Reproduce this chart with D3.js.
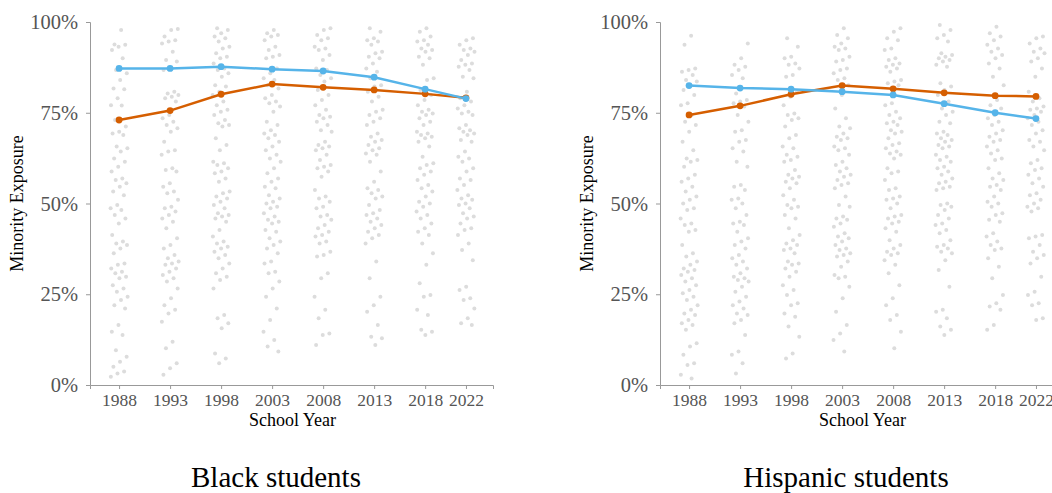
<!DOCTYPE html>
<html>
<head>
<meta charset="utf-8">
<script src="https://cdn.jsdelivr.net/npm/d3@7"></script>
<style>
  body { margin: 0; background: #fff; }
  text { font-family: "Liberation Serif", "DejaVu Serif", serif; }
</style>
</head>
<body>
<svg width="1052" height="493"></svg>
<script>
// school years shown on the x axis
const years = [1988, 1993, 1998, 2003, 2008, 2013, 2018, 2022];
const yTicks = [0, 25, 50, 75, 100];
const panelTitles = ['Black students', 'Hispanic students'];

// the two summary lines (percent)
const blackBlue = [87.2, 87.2, 87.7, 87.0, 86.5, 84.8, 81.5, 78.9];
const blackOrange = [73.0, 75.6, 80.1, 82.9, 82.0, 81.3, 80.2, 79.1];
const hispanicBlue = [82.5, 81.8, 81.5, 80.8, 79.9, 77.5, 75.0, 73.4];
const hispanicOrange = [74.4, 76.9, 80.1, 82.5, 81.6, 80.5, 79.7, 79.5];

// grey dots, one list per school year (percent)
const blackDots = [
  [97.8,93.8,93.7,93.2,92.3,90,86.8,85.9,84,81.7,81.5,79,77.1,77,73,71.2,69.8,69.3,68.9,65.7,65.2,64.3,62.4,61.5,60.1,58.8,56.9,56.5,55.6,54.6,53.3,52.3,49.6,48.7,48.2,46.8,45.9,44.5,41.3,39.5,39,38.6,37.6,36.3,33.5,33.1,32.1,31.2,30.8,29.8,29.4,27.5,26.6,25.7,24.3,23.4,22,21.1,16.5,14.7,13.8,9.6,7.8,6.4,5,3.7,3.2,2.3],
  [98.1,97.8,96,95,94.6,94.1,91.8,89.5,89.1,87.2,86.8,80.8,80.3,79.9,79.4,79,78.1,74.4,73.5,72.5,71.6,70.7,69.8,67,64.7,64.3,63.4,59.7,59.2,58.8,55.6,54.6,53.3,52.8,51,49.1,48.7,47.8,46.8,45.9,45,43.2,40.4,38.6,37.6,35.8,34.9,34,33.5,33.1,32.1,31.2,30.3,29.4,28.5,26.6,23.9,22,20.7,19.7,17.4,11.9,10.1,6,4.6,2.8],
  [98.3,97.8,96.9,96,95.5,94.6,93.2,92.7,91.4,90.4,90,88.6,87.2,86.8,85.9,84.9,82.6,82.2,80.8,79.9,78.1,77.1,75.8,75.3,74.4,73,72.1,71.6,71.2,68,66.1,64.7,61.5,61.1,60.6,59.7,58.8,58.3,56.9,56,53.3,52.8,51.9,51.4,50.5,49.6,48.7,47.3,46.8,46.4,45.9,45,42.7,40.9,39.5,39,38.1,37.6,36.7,35.8,34.9,33.5,32.1,30.8,29.8,28.9,26.6,19.3,18.4,17,15.6,8.7,7.3,6],
  [97.8,96.9,96.4,96,95,93.2,92.3,90.9,90.4,90,87.2,85.9,84.5,84,82.6,81.7,79.9,79,78.1,77.6,76.7,75.3,72.5,71.6,70.2,69.3,68.9,68,67,65.7,64.7,63.4,62.4,61.5,59.7,58.3,56.9,56,54.6,54.2,52.3,51.4,50.5,50,49.1,48.7,47.3,46.4,45.5,45,44.5,42.7,42.2,40.4,39.5,38.6,37.6,36.3,34,33.5,31.2,30.8,28.5,26.6,24.3,21.1,17.9,14.7,12.4,10.6,9.2],
  [98.3,97.8,96.4,95.5,95,93.2,92.7,92.3,90.9,89.5,87.2,86.8,85.4,84.5,83.6,81.3,79.9,78.5,77.1,75.8,74.4,73.9,73.5,72.5,71.6,70.2,69.8,67,66.1,65.7,65.2,64.7,63.4,62,60.6,60.1,59.7,58.8,57.4,53.7,51.9,51.4,50.5,49.1,48.7,46.8,46.4,45.5,44.1,43.2,42.2,41.3,40.9,39.5,39,36.7,35.8,35.4,30.8,29.4,24.3,20.7,18.4,14.2,13.8,11],
  [98.3,97.3,95.5,95,94.6,93.7,91.8,91.4,90.4,90,88.6,87.2,86.3,84.5,82.6,82.2,80.8,79.4,78.1,75.8,75.3,74.4,73.5,72.5,71.6,69.3,68.4,67.5,67,66.1,65.2,64.7,63.8,63.4,61.5,58.8,56,54.2,53.7,52.8,51.9,51.4,49.6,48.2,47.3,46.8,45.9,45,44.1,43.2,42.2,41.3,40.4,39,34,29.4,24.3,22,20.2,16.5,13.3,12.9,11],
  [98.3,97.3,96,95,94.6,93.7,92.7,92.3,91.8,90.4,90,88.2,84.5,84,81.3,79.9,78.5,77.1,75.8,75.3,74.8,74.4,73.5,72.5,71.6,69.8,69.3,68.9,68.4,68,67,65.7,62.9,61.1,60.6,59.7,58.8,57.9,56.5,55.1,54.2,53.3,51.9,50.5,50,49.1,47.8,46.8,45.9,44.5,43.2,42.2,41.3,39,36.3,33.1,28,24.8,24.3,20.7,19.3,15.2,14.7,13.8],
  [95.5,95,93.7,92.7,92.3,91.8,90.9,89.5,88.6,88.2,87.7,86.8,84.9,84.5,80.8,79,78.1,77.1,76.2,75.3,74.8,74.4,71.6,70.7,70.2,69.8,69.3,68.9,67.5,67,64.3,62.9,62.4,61.5,59.7,58.8,56.9,56.5,55.1,53.7,52.3,51.4,51,50,49.6,48.7,47.3,46.4,45.9,44.5,43.2,42.7,41.3,39,37.2,34.4,27.1,26.2,23.9,23.4,21.1,18.4,17,16.5]
];

const hispanicDots = [
  [96.2,93.7,87.2,86.8,86.3,85.4,84,83.6,82.6,81.3,79.9,77.6,77.1,74.4,72.5,71.6,69.8,67,64.7,62.4,62,61.5,60.1,57.9,56.9,56,54.6,53.3,51.9,51,50,48.7,48.2,45.9,44.5,44.1,42.7,42.2,38.6,36.3,35.4,34,33.1,32.1,31.7,31.2,30.3,29.4,28.5,27.5,26.2,25.3,24.3,23.4,22,20.7,19.7,19.3,17.9,17,16.5,15.2,11.5,10.6,8.3,6,5.5,2.8,1.8],
  [94.1,90,88.2,87.7,86.8,85.4,84.5,80.3,78.5,78.1,77.6,76.7,74.4,72.5,70.2,69.8,67.5,67,65.2,64.3,61.5,60.1,55.1,54.6,53.7,51.4,51,50,48.7,46.8,45,44.5,44.1,42.2,40.4,39.5,38.6,37.6,35.8,34.9,34,33.1,32.1,30.8,29.8,29.4,28.9,28.5,27.1,25.7,24.3,23,22,21.1,19.7,19.3,17.9,17,13.8,9.2,8.3,6,3.2],
  [95.5,93.2,90.4,90,88.6,88.2,87.2,85.4,84.9,80.8,79.4,77.1,74.8,74.4,73.5,73,71.2,68.9,68,65.7,65.2,63.4,62.9,62,61.5,59.2,57.9,57.4,56.9,56,55.6,54.2,52.3,51,49.6,49.1,48.7,46.8,45.9,43.2,41.3,39.9,39,38.6,37.6,37.2,36.3,34,33.5,33.1,32.1,31.2,29.8,27.5,26.2,24.8,22.5,22,19.7,18.8,16.1,13.3,8.7,7.3],
  [98.3,96.4,95.5,94.1,93.2,92.7,92.3,90.4,89.5,89.1,87.2,86.8,85.9,84.5,84,82.6,79.9,76.2,73.5,71.2,70.7,69.3,68.4,68,67.5,65.7,65.2,64.7,63.4,61.5,60.6,59.7,58.8,57.9,57.4,56.5,55.6,55.1,54.2,51.9,49.6,49.1,46.4,45.9,45.5,44.5,43.6,41.8,40.9,40.4,39.5,38.6,37.6,37.2,36.3,35.8,35.4,34,32.6,30.3,29.8,29.4,27.1,23.9,20.2,16.5,14.2,12.4,9.2],
  [98.3,97.3,95.5,95,92.7,92.3,90,89.5,88.6,88.2,87.7,87.2,86.3,84,83.6,83.1,82.6,77.6,77.1,75.3,74.4,73.5,72.5,72.1,71.6,70.2,69.8,69.3,68,66.6,66.1,65.2,64.3,63.8,63.4,62.4,59.7,58.8,58.3,56.5,54.2,53.7,51.9,51.4,51,50,48.7,46.8,46.4,45.9,45,44.5,43.2,42.2,39.9,38.6,37.6,36.7,36.3,35.8,34.4,33.1,30.8,27.5,23.9,22,19.3,17.9,14.7,10.1],
  [99.2,97.8,96.4,95.5,94.6,91.4,90.9,90.4,90,89.5,89.1,88.2,87.7,83.1,82.2,81.3,79.9,78.1,76.2,75.3,74.4,72.5,72.1,69.8,69.3,68.9,68,67.5,67,66.1,65.7,65.2,63.4,62.9,62,61.5,60.1,59.7,58.8,57.9,56.9,56,55.6,54.6,54.2,53.7,50,49.6,49.1,48.2,46.8,45.9,44.5,44.1,42.7,41.8,39.9,38.6,38.1,37.6,36.7,36.3,34.4,31.7,27.1,20.7,20.2,18.4,16.1,15.2,13.8],
  [98.7,96.9,96,95,93.7,92.7,91.8,90.9,90,88.6,87.2,84.9,82.6,78.5,77.1,76.2,74.4,73.5,72.5,71.6,70.2,69.3,68.4,67.5,67,65.7,64.7,63.8,62.4,62,59.7,58.3,56.9,56.5,55.1,54.6,53.7,51.9,50.5,50,49.1,47.3,46.8,45.5,45,41.8,40.9,39.5,38.6,37.6,37.2,34.9,32.6,29.4,24.8,22.5,21.6,20.7,16.5,15.2],
  [96,95.5,94.1,92.7,91.8,91.4,90,89.1,87.2,84.9,80.8,79,78.1,76.7,76.2,75.8,75.3,74.4,73.5,72.5,71.6,70.2,69.3,67.5,67,65.7,64.7,62,61.1,59.7,59.2,57.9,56.9,55.6,54.6,52.8,52.3,51,50,49.1,48.7,47.8,41.3,40.9,40.4,38.6,36.7,35.8,34.9,33.5,29.8,25.7,24.8,22.5,22,18.4,17.9]
];

const blue = '#56B4E9';
const orange = '#D55E00';

const svg = d3.select('svg');
const width = +svg.attr('width');
const height = +svg.attr('height');

const xScale = d3.scaleLinear()
  .domain([1985.15, 2024.65])
  .range([90, 493]);

const yScale = d3.scaleLinear()
  .domain([0, 100])
  .range([385, 22]);

// fixed spread of dots around each year (golden ratio steps, no randomness)
const spread = i => (((i + 1) * 0.6180339887) % 1 - 0.5) * 1.7;

const render = (g, dots, blueLine, orangeLine, title) => {

  const xAxis = d3.axisBottom(xScale)
    .tickValues(years)
    .tickFormat(d3.format('d'))
    .tickSize(4)
    .tickPadding(5);

  const yAxis = d3.axisLeft(yScale)
    .tickValues(yTicks)
    .tickFormat(d => d + '%')
    .tickSize(4)
    .tickPadding(8);

  const xg = g.append('g')
    .attr('transform', `translate(0, ${yScale(0)})`)
    .call(xAxis);
  xg.selectAll('text').attr('fill', '#555').style('font-size', '17.5px');

  const yg = g.append('g')
    .attr('transform', `translate(${xScale.range()[0]}, 0)`)
    .call(yAxis);
  yg.selectAll('text').attr('fill', '#555').style('font-size', '20.5px');

  g.selectAll('.domain, .tick line').attr('stroke', '#999');

  // grey dots
  dots.forEach((list, k) => {
    g.append('g').selectAll('circle').data(list)
      .enter().append('circle')
      .attr('cx', (d, i) => xScale(years[k] + spread(i + k * 7)))
      .attr('cy', d => yScale(d))
      .attr('r', 2)
      .attr('fill', '#dcdcdc');
  });

  const line = d3.line()
    .x((d, i) => xScale(years[i]))
    .y(d => yScale(d));

  [[orangeLine, orange], [blueLine, blue]].forEach(([vals, color]) => {
    g.append('path')
      .datum(vals)
      .attr('d', line)
      .attr('fill', 'none')
      .attr('stroke', color)
      .attr('stroke-width', 2.5);
    g.append('g').selectAll('circle').data(vals)
      .enter().append('circle')
      .attr('cx', (d, i) => xScale(years[i]))
      .attr('cy', d => yScale(d))
      .attr('r', 3.4)
      .attr('fill', color);
  });

  g.append('text')
    .attr('text-anchor', 'middle')
    .attr('x', (xScale(years[0]) + xScale(years[years.length - 1])) / 2)
    .attr('y', 426)
    .style('font-size', '18px')
    .text('School Year');

  g.append('text')
    .attr('text-anchor', 'middle')
    .attr('transform', `translate(23, ${(yScale(0) + yScale(100)) / 2}) rotate(-90)`)
    .style('font-size', '18px')
    .text('Minority Exposure');

  g.append('text')
    .attr('text-anchor', 'middle')
    .attr('x', 276)
    .attr('y', 487)
    .style('font-size', '29px')
    .text(title);
};

render(svg.append('g'), blackDots, blackBlue, blackOrange, panelTitles[0]);
render(svg.append('g').attr('transform', 'translate(570, 0)'), hispanicDots, hispanicBlue, hispanicOrange, panelTitles[1]);
</script>
</body>
</html>
